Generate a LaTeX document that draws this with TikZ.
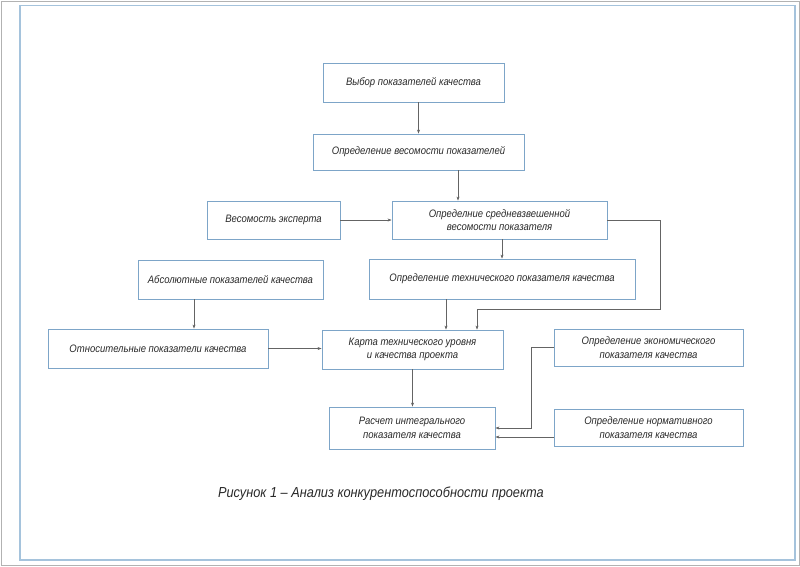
\documentclass[tikz,border=0pt]{standalone}
\usepackage{fontspec}
\setmainfont{Liberation Sans}[FakeStretch=0.88]
\usetikzlibrary{arrows.meta}
\definecolor{boxblue}{RGB}{125,165,200}
\definecolor{frameblue}{RGB}{165,195,220}
\definecolor{linegray}{RGB}{100,100,100}
\definecolor{txt}{RGB}{40,40,40}
\tikzset{
  box/.style={draw=boxblue, line width=0.9pt, align=center, inner sep=0pt,
    font=\fontsize{10.8}{13.5}\selectfont\itshape, text=txt},
  arr/.style={draw=linegray, line width=0.5pt, -{Stealth[length=4pt,width=3pt]}}
}
\begin{document}
\begin{tikzpicture}[x=1pt,y=-1pt]
\useasboundingbox (0,0) rectangle (800,566);
\draw[gray!60, line width=1pt] (1,1) rectangle (799,565);
\draw[frameblue, line width=1.2pt] (20,5.5) rectangle (795,560);

\node[box, minimum width=181pt, minimum height=39pt] (b1) at (413.5,82.5) {Выбор показателей качества};
\node[box, minimum width=211pt, minimum height=36pt] (b2) at (418.5,152) {Определение весомости показателей};
\node[box, minimum width=133pt, minimum height=38pt] (b3) at (273.5,220) {Весомость эксперта};
\node[box, minimum width=215pt, minimum height=38pt] (b4) at (499.5,220) {Определние средневзвешенной\\весомости показателя};
\node[box, minimum width=266pt, minimum height=40pt] (b5) at (502,279) {Определение технического показателя качества};
\node[box, minimum width=181pt, minimum height=39pt] (b6) at (412.5,349.5) {Карта технического уровня\\и качества проекта};
\node[box, minimum width=185pt, minimum height=39pt] (b7) at (230.5,279.5) {Абсолютные показателей качества};
\node[box, minimum width=220pt, minimum height=39pt] (b8) at (158,348.5) {Относительные показатели качества};
\node[box, minimum width=189pt, minimum height=37pt] (b9) at (648.5,347.5) {Определение экономического\\показателя качества};
\node[box, minimum width=166pt, minimum height=42pt] (b10) at (412,428) {Расчет интегрального\\показателя качества};
\node[box, minimum width=189pt, minimum height=37pt] (b11) at (648.5,427.5) {Определение нормативного\\показателя качества};

\node[font=\fontsize{14.5}{17}\selectfont\itshape, text=txt] (cap) at (381,494) {Рисунок 1 – Анализ конкурентоспособности проекта};

\coordinate (r1) at (660,309);
\coordinate (r2) at (531,428);

\draw[arr] (b2.north |- b1.south) -- (b2.north);
\draw[arr] ([xshift=39.5pt]b2.south) -- ([xshift=39.5pt]b2.south |- b4.north);
\draw[arr] (b3.east) -- (b4.west);
\draw[arr] (b5.north |- b4.south) -- (b5.north);
\draw[arr] (b4.east) -| (r1) -| ([xshift=64.5pt]b6.north);
\draw[arr] ([xshift=-56pt]b5.south) -- ([xshift=-56pt]b5.south |- b6.north);
\draw[arr] ([xshift=-36.5pt]b7.south) -- ([xshift=-36.5pt]b7.south |- b8.north);
\draw[arr] (b8.east) -- (b8.east -| b6.west);
\draw[arr] (b6.south) -- (b6.south |- b10.north);
\draw[arr] (b9.west) -| (r2) -- (r2 -| b10.east);
\draw[arr] ([yshift=-9.5pt]b11.west) -- ([yshift=-9.5pt]b11.west -| b10.east);
\end{tikzpicture}
\end{document}
